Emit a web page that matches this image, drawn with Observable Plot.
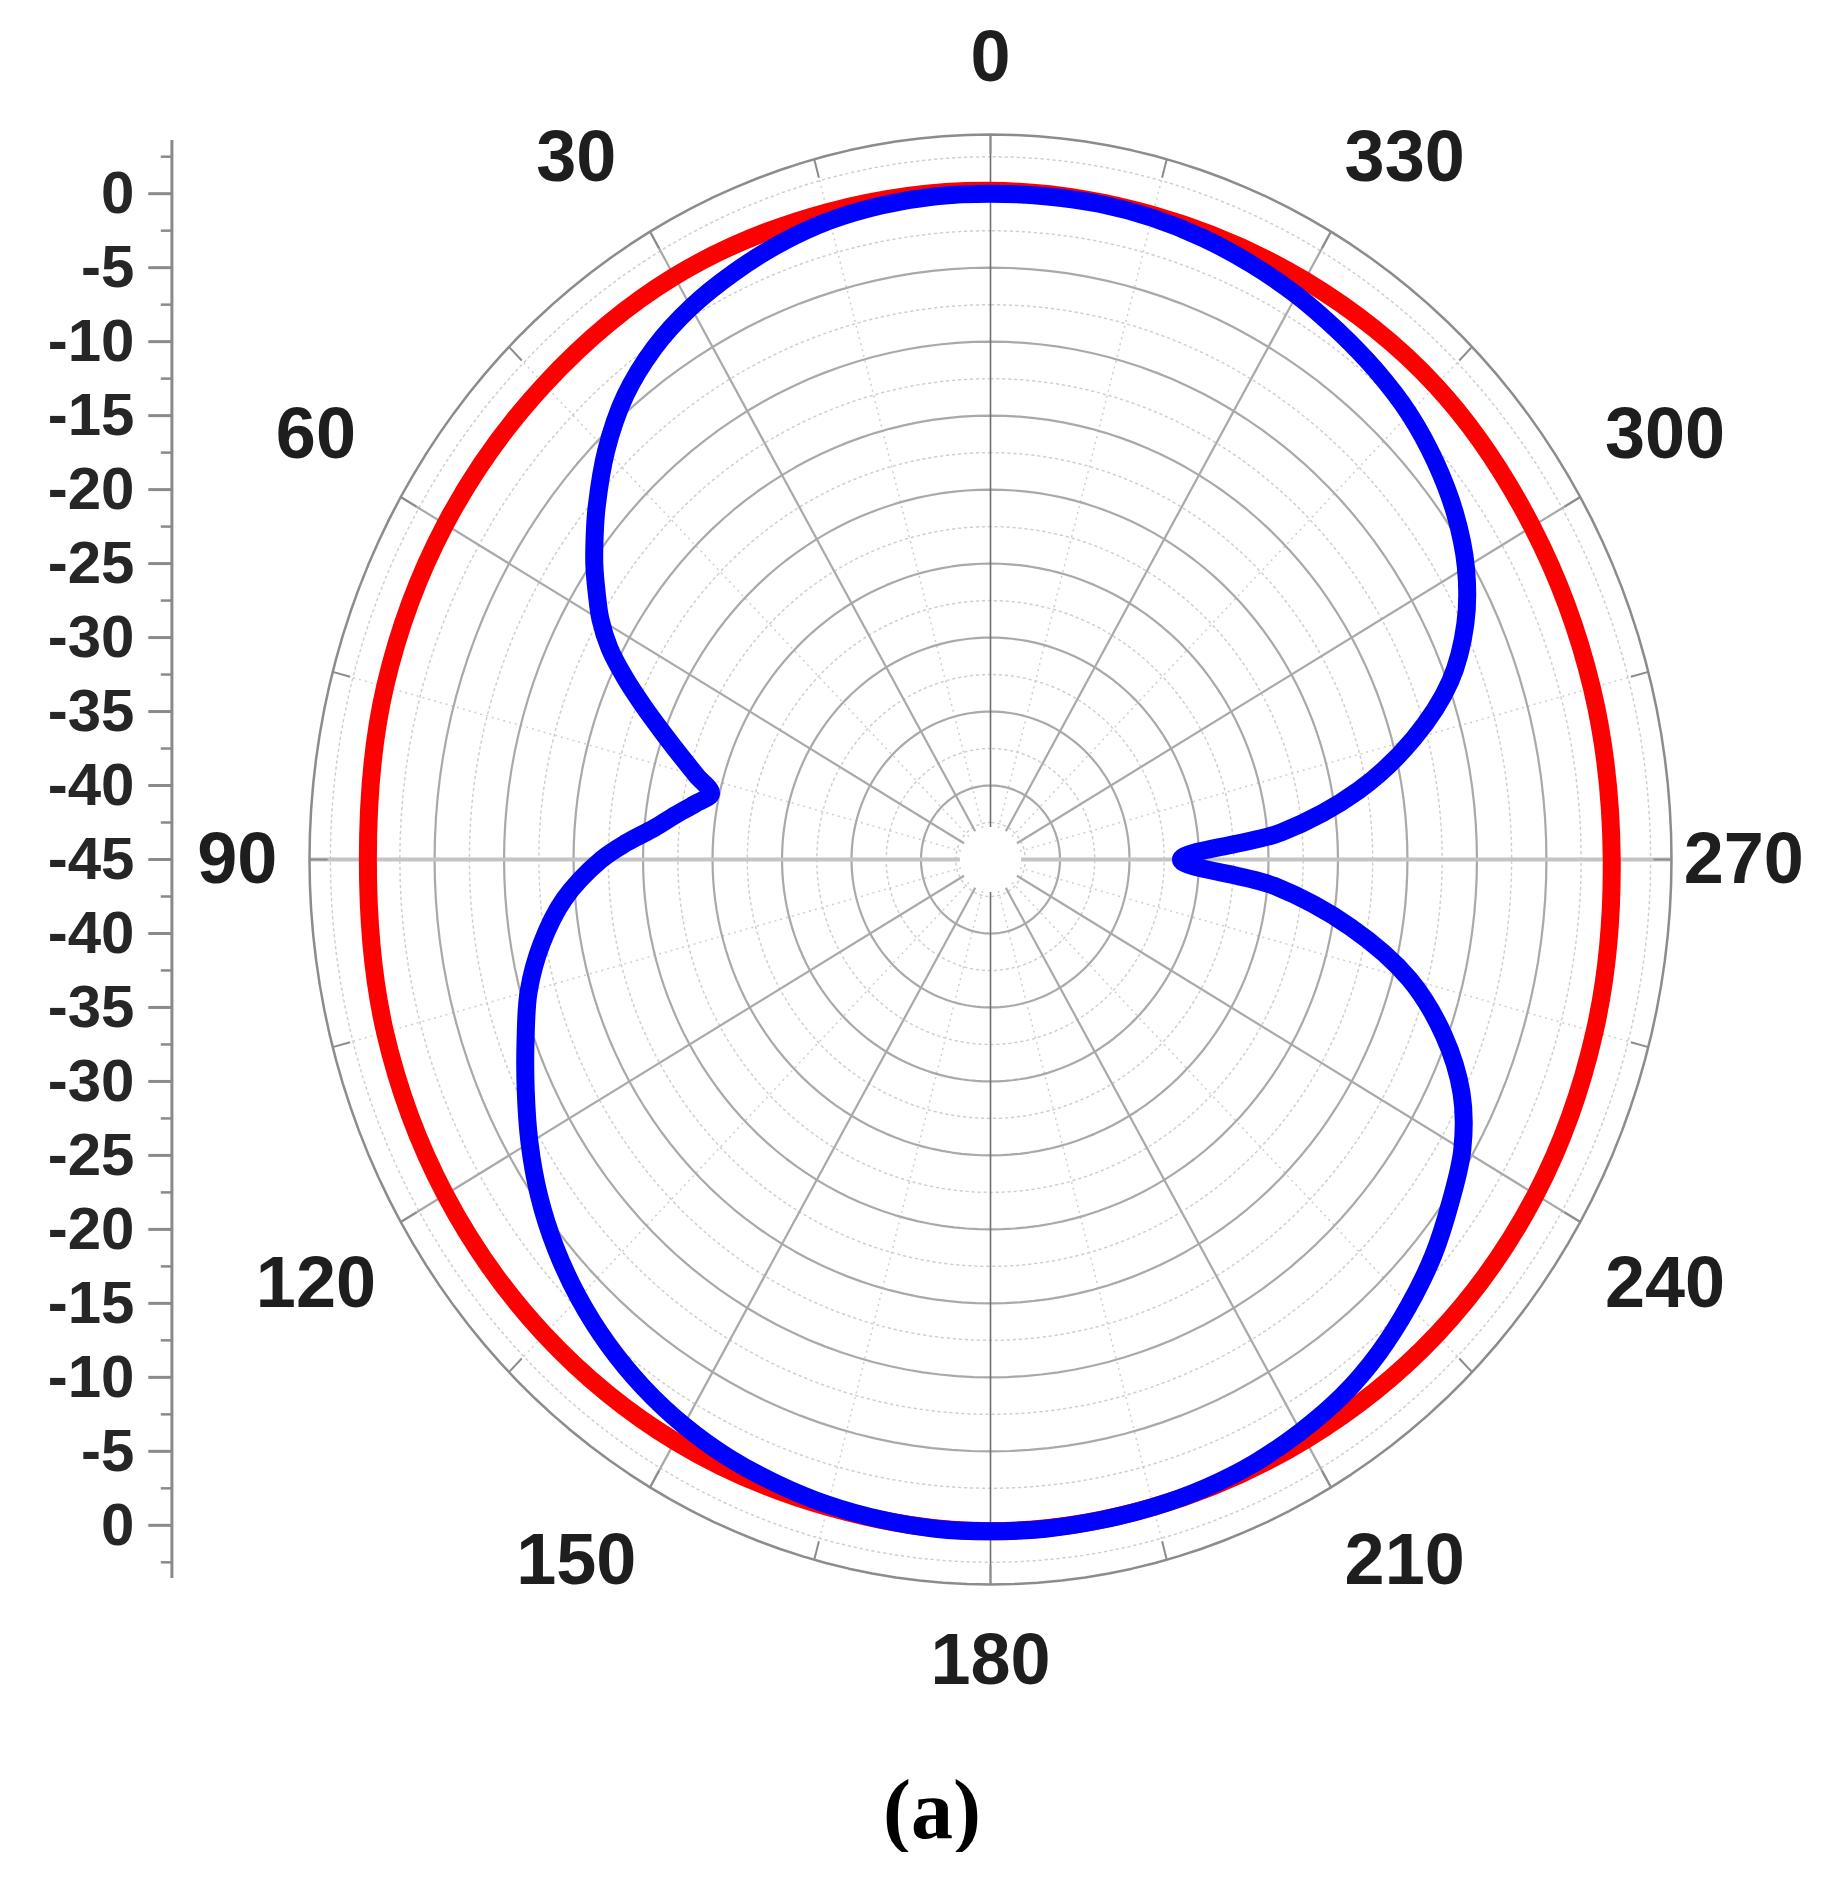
<!DOCTYPE html>
<html>
<head>
<meta charset="utf-8">
<script src="https://cdn.jsdelivr.net/npm/d3@7"></script>
<script src="https://cdn.jsdelivr.net/npm/@observablehq/plot@0.6"></script>
<style>
  body { margin: 0; background: #fff; }
  #caption { font: bold 84px "Liberation Serif", "Times New Roman", serif; line-height: 1; text-align: center; margin-top: 28px; padding-left: 24px; color: #000; }
</style>
</head>
<body>
<div id="chart"></div>
<div id="caption">(a)</div>
<script>
// ---- data (angle in degrees, counter-clockwise from top; gain in dB) ----
const blueAngles = [0,5,10,15,20,25,30,35,40,45,50,52.5,55,57.5,60,62.5,65,67.5,70,72.5,75,77.5,80,82.5,85,87.5,90,95,100,105,110,115,120,125,130,135,140,145,150,155,160,165,170,175,180,185,190,195,200,205,210,215,220,225,230,235,240,245,250,255,260,265,270,275,280,285,290,295,300,305,310,315,320,325,330,335,340,345,350,355];
const blueDb = [0,0,-0.1,-0.3,-0.7,-1.25,-1.9,-2.8,-4.1,-5.9,-8.0,-9.1,-10.2,-11.4,-12.6,-14.1,-16.0,-18.0,-19.9,-21.6,-23.1,-24.4,-23.4,-22.1,-20.7,-18.8,-17.0,-14.2,-12.2,-10.6,-9.4,-8.1,-6.7,-5.35,-4.15,-3.1,-2.2,-1.45,-0.85,-0.4,-0.1,0.15,0.3,0.4,0.4,0.4,0.35,0.3,0.2,0,-0.35,-0.8,-1.5,-2.4,-3.4,-4.6,-5.8,-7.6,-10.3,-13.8,-18.7,-24.5,-31.3,-24.0,-18.1,-13.5,-9.8,-7.3,-5.5,-4.2,-3.2,-2.4,-1.85,-1.4,-0.95,-0.6,-0.3,-0.1,0,0];
const redAngles = [0,15,30,45,60,75,90,105,120,135,150,165,180,195,210,225,240,255,270,285,300,315,330,345];
const redDb = [0.2,0.3,0.5,0.4,0.3,0.1,-0.2,0.1,0.3,0.4,0.4,0.3,0.4,0.3,0.3,0.4,0.3,0,-0.3,-0.2,0,0.3,0.2,0.1];
const angleLabels = [0,30,60,90,120,150,180,210,240,270,300,330];
const axisLabels = ["0","-5","-10","-15","-20","-25","-30","-35","-40","-45","-40","-35","-30","-25","-20","-15","-10","-5","0"];
const ringDb = [-40,-35,-30,-25,-20,-15,-10,-5,0];
const minorRingDb = [-42.5,-37.5,-32.5,-27.5,-22.5,-17.5,-12.5,-7.5,-2.5,2.5];

// ---- layout ----
const DB_MIN = -45;          // centre of the polar plot
const OUTER = 49;            // outer ring radius (+4 dB)
const INNER = 2.2;           // empty hub radius
const AXIS_X = -58.9;        // left scale axis position (x units)
const LABEL_R = 54.2;
const rad = d => d + (-DB_MIN);
const px = (a, r) => -r * Math.sin(a * Math.PI / 180);
const py = (a, r) => r * Math.cos(a * Math.PI / 180);

// extra label offsets for diagonal labels, by angular distance from the vertical
const fromVert = a => { const m = a % 180; return Math.min(m, 180 - m); };
const extra = a => (fromVert(a) === 30 ? [2.7, 0.5] : fromVert(a) === 60 ? [1.6, 1.6] : [0, 0]);
const lx = a => { const s = -Math.sin(a * Math.PI / 180); return s * LABEL_R + Math.sign(Math.round(s * 1e6)) * extra(a)[0]; };
const ly = a => { const c = Math.cos(a * Math.PI / 180); return c * LABEL_R + Math.sign(Math.round(c * 1e6)) * extra(a)[1]; };

const blue = blueAngles.map((a, i) => ({a, r: rad(blueDb[i])}));
const red = redAngles.map((a, i) => ({a, r: rad(redDb[i])}));

const circle = d3.range(0, 362, 2);
const rings = ringDb.flatMap(db => circle.map(a => ({db, a, r: rad(db)})));
const minorRings = minorRingDb.flatMap(db => circle.map(a => ({db, a, r: rad(db)})));
const outerRing = circle.map(a => ({a, r: OUTER}));
const majorSpokes = d3.range(0, 360, 30).filter(a => a % 90 !== 0);
const minorSpokes = d3.range(15, 360, 30);
const outerTicks = d3.range(0, 360, 15);
const axisPos = axisLabels.map((_, i) => 45 - 5 * i);
const axisMinor = d3.range(-47.5, 48, 5);

const chart = Plot.plot({
  width: 1840,
  height: 1740,
  marginLeft: 309,
  marginRight: 169,
  marginTop: 134,
  marginBottom: 156,
  x: {domain: [-OUTER, OUTER], axis: null},
  y: {domain: [-OUTER, OUTER], axis: null},
  style: {background: "#fff", fontFamily: "'Liberation Sans', Arial, sans-serif", overflow: "visible"},
  marks: [
    Plot.line(minorRings, {x: d => px(d.a, d.r), y: d => py(d.a, d.r), z: "db", stroke: "#cfcfcf", strokeWidth: 1.5, strokeDasharray: "2,4"}),
    Plot.link(minorSpokes, {x1: a => px(a, INNER), y1: a => py(a, INNER), x2: a => px(a, OUTER), y2: a => py(a, OUTER), stroke: "#cfcfcf", strokeWidth: 1.5, strokeDasharray: "2,4"}),
    Plot.line(rings, {x: d => px(d.a, d.r), y: d => py(d.a, d.r), z: "db", stroke: "#a9a9a9", strokeWidth: 2.2}),
    Plot.link(majorSpokes, {x1: a => px(a, INNER), y1: a => py(a, INNER), x2: a => px(a, OUTER), y2: a => py(a, OUTER), stroke: "#a9a9a9", strokeWidth: 2.2}),
    Plot.link([90, 270], {x1: a => px(a, INNER), y1: a => py(a, INNER), x2: a => px(a, OUTER), y2: a => py(a, OUTER), stroke: "#c4c4c4", strokeWidth: 4}),
    Plot.link([0, 180], {x1: a => px(a, INNER), y1: a => py(a, INNER), x2: a => px(a, OUTER), y2: a => py(a, OUTER), stroke: "#6e6e6e", strokeWidth: 1.6}),
    Plot.line(outerRing, {x: d => px(d.a, d.r), y: d => py(d.a, d.r), stroke: "#8c8c8c", strokeWidth: 2.5}),
    Plot.link(outerTicks, {x1: a => px(a, OUTER), y1: a => py(a, OUTER), x2: a => px(a, OUTER - 1.3), y2: a => py(a, OUTER - 1.3), stroke: "#8c8c8c", strokeWidth: 2}),
    Plot.line(red, {x: d => px(d.a, d.r), y: d => py(d.a, d.r), curve: "catmull-rom-closed", stroke: "#ff0000", strokeWidth: 18, strokeLinejoin: "round"}),
    Plot.line(blue, {x: d => px(d.a, d.r), y: d => py(d.a, d.r), curve: "catmull-rom-closed", stroke: "#0000ff", strokeWidth: 18, strokeLinejoin: "round"}),
    Plot.text(angleLabels, {x: lx, y: ly, text: a => String(a), fontSize: 72, fontWeight: "bold", fill: "#1e1e1e"}),
    Plot.ruleX([AXIS_X], {y1: -48.6, y2: 48.6, stroke: "#8a8a8a", strokeWidth: 3}),
    Plot.link(axisPos, {x1: AXIS_X, x2: AXIS_X - 1.7, y1: d => d, y2: d => d, stroke: "#8a8a8a", strokeWidth: 3}),
    Plot.link(axisMinor, {x1: AXIS_X, x2: AXIS_X - 0.8, y1: d => d, y2: d => d, stroke: "#8a8a8a", strokeWidth: 2.5}),
    Plot.text(axisPos, {x: AXIS_X - 2.7, y: d => d, text: (d, i) => axisLabels[i], textAnchor: "end", fontSize: 60, fontWeight: "bold", fill: "#262626"})
  ]
});
document.getElementById("chart").appendChild(chart);
</script>
</body>
</html>
